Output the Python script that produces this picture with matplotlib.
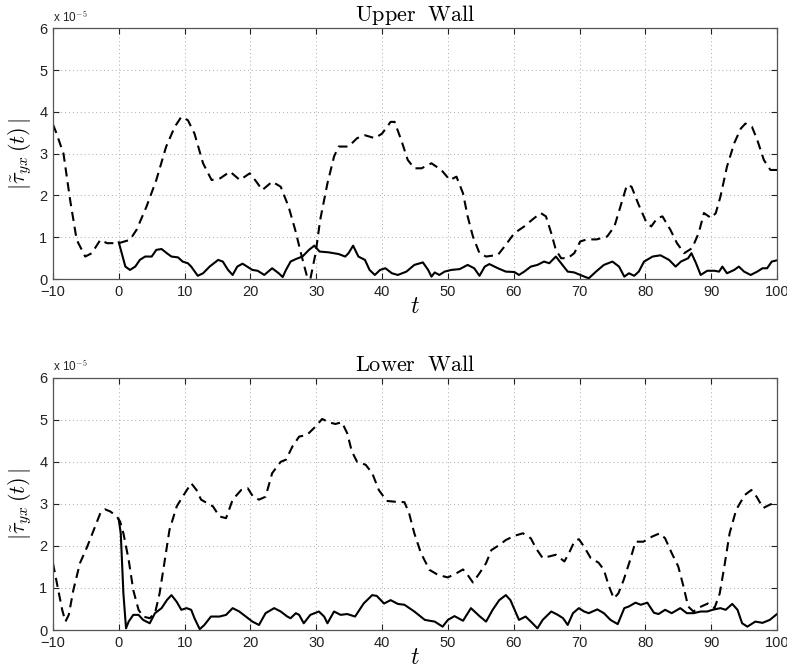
import matplotlib
matplotlib.use("Agg")
import matplotlib.pyplot as plt

plt.rcParams["font.family"] = ["Liberation Sans", "DejaVu Sans"]
plt.rcParams["mathtext.fontset"] = "cm"

# Wall shear stress magnitude |tau_yx(t)|, values in units of 1e-5
upper_dashed_t = [-10, -9.5, -8.4, -7.4, -6.4, -5.1, -4.1, -2.8, -1.8, 0, 1.7, 2.7, 4.2, 5.7, 7.2,
                  8.5, 9.5, 10.5, 11.5, 12.8, 14.1, 15.4, 16.9, 18.4, 19.9, 20.9, 21.8, 23.3,
                  24.6, 25.8, 26.8, 27.8, 28.6, 29.1, 29.9, 30.6, 31.7, 32.7, 33.4, 34.9, 36.2,
                  37.4, 38.9, 40.0, 41.3, 41.9, 42.9, 43.9, 44.9, 46.0, 47.5, 49.0, 50.3, 51.3,
                  52.3, 53.0, 53.8, 54.8, 55.8, 57.6, 58.6, 60.1, 61.6, 62.8, 64.1, 64.9, 65.7,
                  66.4, 67.2, 68.2, 69.2, 70.1, 71.1, 72.6, 74.2, 75.3, 76.2, 77.2, 77.9, 78.9,
                  80.2, 80.9, 81.8, 82.6, 83.8, 84.8, 85.9, 87.1, 88.1, 88.9, 90.0, 90.7, 91.4,
                  92.4, 93.5, 94.5, 95.2, 96.2, 97.0, 98.0, 99.0, 100]
upper_dashed_v = [3.7, 3.5, 3.0, 1.9, 0.94, 0.54, 0.62, 0.94, 0.86, 0.86, 0.94, 1.18, 1.73, 2.37, 3.17,
                  3.64, 3.88, 3.8, 3.48, 2.77, 2.37, 2.41, 2.57, 2.37, 2.53, 2.33, 2.13, 2.33,
                  2.21, 1.73, 1.18, 0.54, 0.06, 0.0, 0.62, 1.42, 2.29, 2.93, 3.17, 3.17, 3.37,
                  3.44, 3.37, 3.48, 3.76, 3.76, 3.33, 2.85, 2.65, 2.65, 2.77, 2.61, 2.37, 2.45,
                  2.05, 1.5, 1.02, 0.62, 0.54, 0.58, 0.78, 1.1, 1.26, 1.42, 1.58, 1.5, 1.1,
                  0.7, 0.5, 0.5, 0.62, 0.9, 0.95, 0.95, 1.02, 1.26, 1.73, 2.25, 2.21, 1.81,
                  1.34, 1.26, 1.46, 1.5, 1.18, 0.86, 0.62, 0.74, 1.1, 1.58, 1.46, 1.58, 1.97,
                  2.69, 3.25, 3.6, 3.72, 3.64, 3.33, 2.85, 2.61, 2.61]

upper_solid_t = [0, 0.45, 1.0, 1.7, 2.5, 3.2, 4.0, 5.0, 5.7, 6.5, 7.3, 8.0, 9.0, 9.7, 10.5, 11.0,
                 12.0, 12.8, 13.8, 15.1, 15.8, 16.6, 17.3, 18.0, 18.8, 19.5, 20.3, 21.1, 22.1,
                 23.3, 24.3, 24.9, 25.4, 26.1, 26.9, 27.9, 28.9, 29.7, 30.5, 31.9, 33.4, 34.4,
                 34.9, 35.6, 36.4, 37.4, 38.1, 38.9, 39.7, 40.5, 41.5, 42.4, 43.7, 44.9, 46.2,
                 47.0, 47.5, 48.0, 48.7, 49.5, 50.5, 51.8, 53.0, 54.0, 54.8, 55.6, 56.3, 57.6,
                 58.8, 60.1, 60.8, 61.6, 62.6, 63.6, 64.6, 65.4, 66.4, 67.2, 68.2, 69.2, 70.1,
                 71.4, 72.5, 73.7, 75.0, 76.0, 76.8, 77.5, 78.3, 79.0, 79.8, 81.1, 82.3, 83.6,
                 84.6, 85.4, 86.5, 87.0, 87.7, 88.4, 89.4, 90.5, 91.2, 91.7, 92.4, 93.5, 94.2,
                 95.0, 96.0, 97.0, 97.8, 98.5, 99.2, 100]
upper_solid_v = [0.88, 0.62, 0.3, 0.22, 0.3, 0.46, 0.54, 0.54, 0.7, 0.72, 0.62, 0.54, 0.52, 0.42, 0.38, 0.3,
                 0.08, 0.14, 0.3, 0.46, 0.42, 0.22, 0.1, 0.3, 0.37, 0.3, 0.22, 0.2, 0.1,
                 0.26, 0.14, 0.05, 0.22, 0.42, 0.48, 0.54, 0.7, 0.8, 0.66, 0.64, 0.6, 0.54,
                 0.62, 0.8, 0.54, 0.46, 0.22, 0.1, 0.22, 0.26, 0.14, 0.1, 0.18, 0.34, 0.4,
                 0.22, 0.06, 0.16, 0.1, 0.18, 0.22, 0.24, 0.34, 0.26, 0.08, 0.3, 0.36, 0.26,
                 0.18, 0.17, 0.1, 0.18, 0.3, 0.34, 0.42, 0.38, 0.54, 0.38, 0.18, 0.16, 0.1,
                 0.02, 0.18, 0.34, 0.42, 0.3, 0.06, 0.14, 0.08, 0.18, 0.42, 0.54, 0.57, 0.46,
                 0.3, 0.42, 0.5, 0.62, 0.38, 0.1, 0.2, 0.2, 0.18, 0.3, 0.14, 0.22, 0.3,
                 0.18, 0.1, 0.18, 0.26, 0.26, 0.42, 0.45]

lower_dashed_t = [-10, -9.4, -8.6, -8.1, -7.6, -6.9, -5.9, -4.8, -3.8, -2.8, -2.1, -1.3, -0.3, 0.2,
                  0.7, 1.5, 2.2, 3.0, 3.7, 4.7, 5.5, 6.2, 7.0, 7.7, 8.8, 9.7, 11.0, 11.8, 12.5,
                  14.3, 15.3, 16.3, 17.3, 18.6, 19.6, 20.4, 21.3, 22.3, 23.3, 24.6, 25.4, 26.4,
                  27.4, 28.6, 29.9, 30.9, 31.9, 32.9, 33.9, 34.7, 35.4, 36.2, 37.5, 38.5, 39.5,
                  40.7, 42.0, 43.4, 44.1, 44.9, 45.9, 47.2, 48.5, 50.0, 51.3, 52.3, 53.0, 53.8,
                  54.8, 55.8, 56.6, 57.8, 58.8, 60.1, 61.4, 62.6, 63.4, 64.4, 65.4, 66.4, 67.7,
                  68.4, 69.2, 69.9, 70.7, 71.7, 72.9, 73.7, 74.4, 75.2, 75.9, 76.7, 77.7, 78.5,
                  79.7, 81.0, 82.2, 83.0, 84.0, 85.0, 85.8, 86.5, 87.3, 88.5, 89.5, 90.5, 91.3,
                  92.0, 92.8, 93.8, 95.1, 96.1, 96.9, 97.9, 98.9, 100]
lower_dashed_v = [1.59, 1.11, 0.48, 0.2, 0.36, 0.95, 1.59, 1.98, 2.38, 2.78, 2.87, 2.82, 2.7, 2.58,
                  2.3, 1.67, 0.95, 0.48, 0.32, 0.28, 0.4, 0.87, 1.67, 2.38, 2.94, 3.17, 3.49, 3.33, 3.1,
                  2.94, 2.7, 2.66, 3.1, 3.33, 3.37, 3.17, 3.1, 3.17, 3.73, 4.0, 4.05, 4.37,
                  4.6, 4.64, 4.84, 5.02, 4.94, 4.9, 4.94, 4.68, 4.25, 4.0, 3.93, 3.73, 3.33,
                  3.07, 3.05, 3.04, 2.78, 2.3, 1.83, 1.43, 1.31, 1.25, 1.35, 1.44, 1.31, 1.13,
                  1.35, 1.59, 1.9, 2.02, 2.14, 2.24, 2.3, 2.18, 1.94, 1.71, 1.75, 1.79, 1.63,
                  1.83, 2.1, 2.16, 1.98, 1.71, 1.6, 1.43, 1.07, 0.75, 0.87, 1.19, 1.67, 2.1,
                  2.1, 2.22, 2.3, 2.18, 1.83, 1.51, 1.03, 0.56, 0.44, 0.56, 0.63, 0.52, 0.87,
                  1.51, 2.3, 2.86, 3.21, 3.33, 3.17, 2.9, 2.98, 3.05]

lower_solid_t = [0, 0.3, 0.7, 1.1, 1.5, 2.2, 3.0, 3.7, 4.7, 5.5, 6.5, 7.3, 8.0, 8.8, 9.5, 10.3, 11.0,
                 11.5, 12.3, 13.0, 14.0, 15.3, 16.3, 17.3, 18.3, 19.3, 20.3, 21.3, 22.3, 23.6,
                 24.6, 25.6, 26.1, 26.9, 27.4, 28.1, 29.1, 30.4, 31.2, 31.7, 32.7, 33.7, 34.7,
                 35.9, 37.2, 38.5, 39.2, 40.3, 41.3, 42.4, 43.4, 44.9, 46.5, 48.0, 49.2, 50.0,
                 51.0, 52.3, 53.5, 54.8, 55.8, 56.8, 57.8, 58.8, 59.5, 60.8, 61.8, 62.6, 63.6,
                 64.4, 65.7, 66.7, 67.5, 68.2, 69.0, 69.9, 70.7, 71.4, 72.7, 73.7, 74.7, 75.8,
                 76.8, 77.5, 78.5, 79.3, 80.3, 81.3, 82.0, 83.0, 84.0, 85.3, 86.3, 87.3, 88.4,
                 89.4, 90.2, 91.4, 92.2, 93.2, 94.0, 94.7, 95.5, 96.7, 97.8, 98.9, 100]
lower_solid_v = [2.62, 2.3, 0.87, 0.04, 0.2, 0.36, 0.36, 0.24, 0.16, 0.4, 0.52, 0.71, 0.83, 0.67, 0.48, 0.52, 0.48,
                 0.28, 0.02, 0.12, 0.32, 0.32, 0.36, 0.52, 0.44, 0.32, 0.2, 0.12, 0.4, 0.52,
                 0.44, 0.32, 0.28, 0.4, 0.36, 0.16, 0.36, 0.44, 0.32, 0.16, 0.44, 0.36, 0.38,
                 0.32, 0.63, 0.83, 0.81, 0.63, 0.71, 0.62, 0.6, 0.44, 0.24, 0.2, 0.08, 0.24,
                 0.33, 0.22, 0.52, 0.33, 0.2, 0.48, 0.71, 0.83, 0.71, 0.24, 0.32, 0.2, 0.04,
                 0.24, 0.44, 0.36, 0.28, 0.12, 0.4, 0.52, 0.44, 0.4, 0.49, 0.4, 0.24, 0.14,
                 0.52, 0.56, 0.65, 0.6, 0.65, 0.41, 0.38, 0.48, 0.4, 0.52, 0.4, 0.4, 0.44,
                 0.44, 0.48, 0.52, 0.48, 0.62, 0.48, 0.16, 0.08, 0.2, 0.17, 0.24, 0.38]

x_ticks = [-10, 0, 10, 20, 30, 40, 50, 60, 70, 80, 90, 100]
y_ticks = [0, 1, 2, 3, 4, 5, 6]
titles = ["Upper  Wall", "Lower  Wall"]

fig = plt.figure(figsize=(7.87, 6.71), dpi=100)
ax_top = fig.add_axes([0.0673, 0.584, 0.920, 0.374])
ax_bot = fig.add_axes([0.0673, 0.0611, 0.920, 0.376])

panels = [
    (ax_top, titles[0], upper_dashed_t, upper_dashed_v, upper_solid_t, upper_solid_v),
    (ax_bot, titles[1], lower_dashed_t, lower_dashed_v, lower_solid_t, lower_solid_v),
]

for ax, title, dt, dv, st, sv in panels:
    ax.plot(dt, dv, color="black", lw=1.5, linestyle=(0, (4.4, 2.8)))
    ax.plot(st, sv, color="black", lw=1.5)
    ax.set_xlim(-10, 100)
    ax.set_ylim(0, 6)
    ax.set_xticks(x_ticks)
    ax.set_yticks(y_ticks)
    ax.grid(True, linestyle=(0, (1, 3)), color="#aaaaaa", linewidth=0.7)
    ax.tick_params(direction="in", top=True, right=True, length=4.5, width=0.8,
                   labelsize=10.5, colors="#222222")
    ax.tick_params(axis="x", pad=4)
    ax.tick_params(axis="y", pad=4)
    for sp in ax.spines.values():
        sp.set_color("#555555")
        sp.set_linewidth(0.9)
    ax.set_title(r"$\mathrm{" + title.replace(" ", r"\ ") + "}$", fontsize=16, pad=5)
    ax.set_xlabel(r"$t$", fontsize=17, labelpad=-2)
    ax.set_ylabel(r"$|\tilde{\tau}_{yx}\,(t)\,|$", fontsize=16, labelpad=4)
    ax.text(0.0, 1.012, r"x 10$^{-5}$", transform=ax.transAxes, fontsize=8.5,
            ha="left", va="bottom", color="#222222")

fig.savefig("out.png", dpi=100)
